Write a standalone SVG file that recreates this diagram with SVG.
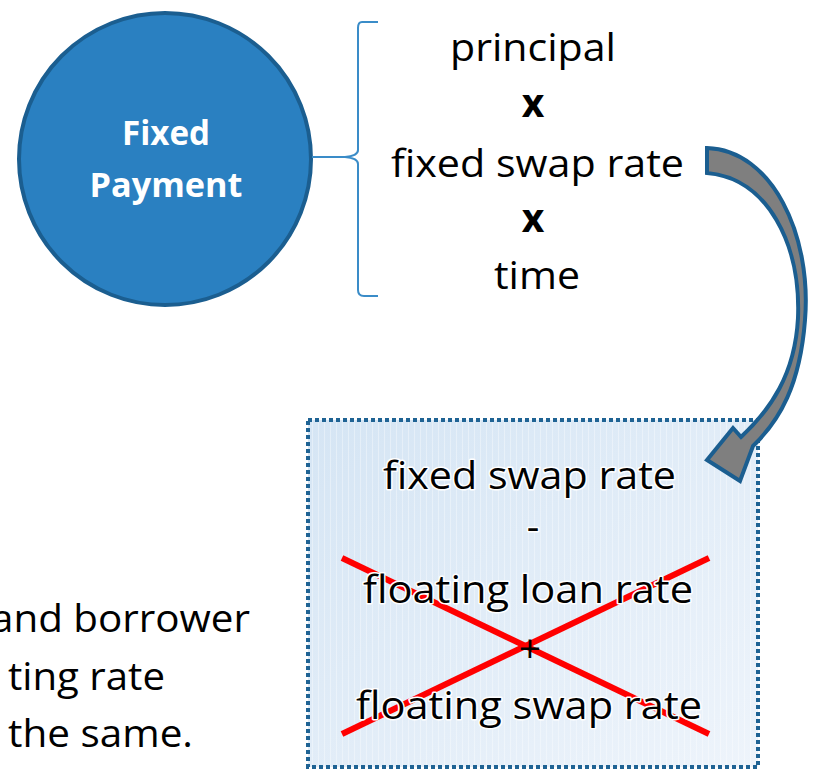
<svg xmlns="http://www.w3.org/2000/svg" width="813" height="771" viewBox="0 0 813 771">
<defs>
<style>
.t{font-family:"Open Sans","Noto Sans",sans-serif;font-size:39px;fill:#000;text-anchor:middle}
.b{font-weight:bold}
.halo{stroke:#fff;stroke-width:3;paint-order:stroke;stroke-linejoin:round}
.w{font-family:"Open Sans","Noto Sans",sans-serif;font-size:34.5px;font-weight:bold;fill:#fff;text-anchor:middle}
.s{text-anchor:start}
.cross{stroke:#ff0000;stroke-width:6;stroke-linecap:butt}
</style>
<linearGradient id="bg" x1="0" y1="0" x2="1" y2="1">
<stop offset="0" stop-color="#d5e5f4"/>
<stop offset="1" stop-color="#eef4fb"/>
</linearGradient>
<pattern id="stripes" width="6" height="10" patternUnits="userSpaceOnUse">
<rect x="0" y="0" width="1" height="10" fill="#ffffff" fill-opacity="0.35"/>
</pattern>
</defs>
<rect width="813" height="771" fill="#fff"/>

<g id="fixed-payment">
<circle cx="165" cy="159" r="146" fill="#2a80c1" stroke="#1b5e90" stroke-width="4"/>
<text class="w" x="166" y="145" textLength="88" lengthAdjust="spacingAndGlyphs">Fixed</text>
<text class="w" x="166" y="197" textLength="153" lengthAdjust="spacingAndGlyphs">Payment</text>
</g>

<g id="brace">
<path d="M378,22 L362,22 Q358,22 358,28 L358,150 Q358,156 345,157 L312,157 M345,157 Q358,158 358,164 L358,290 Q358,296 364,296 L378,296" fill="none" stroke="#3a8cc8" stroke-width="2"/>
</g>

<g id="formula">
<text class="t" x="533" y="61" textLength="166" lengthAdjust="spacingAndGlyphs">principal</text>
<text class="t b" x="533" y="117">x</text>
<text class="t" x="537.5" y="177" textLength="293" lengthAdjust="spacingAndGlyphs">fixed swap rate</text>
<text class="t b" x="533" y="232">x</text>
<text class="t" x="537" y="289" textLength="86" lengthAdjust="spacingAndGlyphs">time</text>
</g>

<g id="box">
<rect x="308" y="420" width="450" height="347" fill="url(#bg)"/>
<rect x="308" y="420" width="450" height="347" fill="url(#stripes)"/>
<rect x="308" y="420" width="450" height="347" fill="none" stroke="#1f6394" stroke-width="4" stroke-dasharray="4 3"/>
<line class="cross" x1="342" y1="558" x2="709" y2="734"/>
<line class="cross" x1="342" y1="734" x2="709" y2="558"/>
<text class="t halo" x="529.5" y="489" textLength="293" lengthAdjust="spacingAndGlyphs">fixed swap rate</text>
<text class="t halo" x="533" y="540">-</text>
<text class="t halo" x="528" y="603" textLength="330" lengthAdjust="spacingAndGlyphs">floating loan rate</text>
<text class="t" x="530" y="662">+</text>
<text class="t halo" x="529" y="719" textLength="346" lengthAdjust="spacingAndGlyphs">floating swap rate</text>
</g>

<g id="connectors">
<path d="M707,148 C772,150 812,235 805,320 C800,385 780,420 753,446 L740,481 L707,460 L733,428 L741,437 C770,410 795,375 798,318 C801,245 768,178 707,173 Z" fill="#7f7f7f" stroke="#1b5e90" stroke-width="4" stroke-linejoin="miter"/>
</g>

<g id="note">
<text class="t s" x="-9" y="632" textLength="259" lengthAdjust="spacingAndGlyphs">and borrower</text>
<text class="t s" x="8" y="690" textLength="157" lengthAdjust="spacingAndGlyphs">ting rate</text>
<text class="t s" x="8" y="747" textLength="185" lengthAdjust="spacingAndGlyphs">the same.</text>
</g>
</svg>
